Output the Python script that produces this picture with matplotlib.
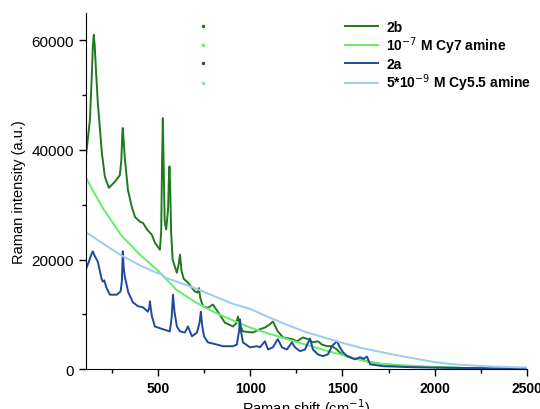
import matplotlib
matplotlib.use('Agg')
import matplotlib.pyplot as plt
from matplotlib.lines import Line2D
from matplotlib.ticker import MultipleLocator

plt.rcParams['font.family'] = ['Liberation Sans', 'DejaVu Sans']

# 2b (dark green)
shift_2b = [110, 132, 142, 148, 153, 158, 164, 175, 197, 213, 235, 267, 294, 302, 307,
            310, 314, 321, 338, 359, 376, 403, 419, 441, 468, 484, 511, 518, 523, 527,
            531, 537, 545, 555, 560, 563, 567, 572, 580, 603, 612, 620, 628, 640, 663,
            700, 715, 722, 730, 744, 771, 798, 825, 863, 907, 925, 934, 943, 961, 1015,
            1053, 1080, 1107, 1123, 1150, 1178, 1226, 1254, 1286, 1313, 1340, 1367, 1389,
            1416, 1443, 1470, 1497, 1525, 1557, 1595, 1650, 1700, 1828, 2010, 2190, 2350,
            2500]
int_2b = [38700, 45500, 53500, 59000, 61000, 59000, 55000, 48500, 39400, 35100, 33100,
          34200, 35400, 38000, 42500, 44000, 42000, 38500, 32700, 29600, 27800, 26900,
          26700, 25500, 24500, 23100, 21800, 25000, 38000, 45800, 38000, 27000, 25500,
          29000, 35000, 37000, 33000, 25000, 20000, 17600, 19000, 20900, 18000, 16500,
          15800, 14200, 14000, 14800, 13000, 11500, 11200, 11800, 10500, 8500, 7800,
          8400, 9600, 8200, 6900, 6700, 7300, 7600, 8200, 8700, 6900, 5800, 5500, 5100,
          5800, 5500, 4900, 5100, 4500, 4200, 4200, 3600, 2700, 2400, 2000, 1800, 1300,
          1000, 550, 360, 200, 120, 80]

# 10^-7 M Cy7 amine (light green)
shift_cy7 = [110, 150, 200, 250, 300, 400, 500, 600, 700, 800, 900, 1000, 1100, 1200,
             1300, 1400, 1500, 1600, 1650, 1700, 1800, 2000, 2200, 2500]
int_cy7 = [35000, 32500, 29500, 27000, 24500, 21000, 18000, 14500, 12300, 10500, 9000,
           7600, 6500, 5500, 4500, 3500, 2600, 1700, 1300, 1000, 800, 400, 200, 50]

# 2a (dark blue)
shift_2a = [110, 125, 140, 148, 156, 175, 195, 202, 210, 220, 240, 278, 298, 305, 310,
            315, 321, 340, 365, 392, 419, 446, 453, 457, 462, 468, 484, 527, 565, 575,
            582, 590, 603, 620, 647, 663, 685, 712, 726, 733, 740, 750, 771, 820, 853,
            907, 928, 940, 945, 950, 961, 999, 1037, 1053, 1080, 1097, 1123, 1150, 1172,
            1199, 1226, 1243, 1270, 1297, 1324, 1340, 1367, 1394, 1421, 1443, 1470,
            1486, 1503, 1525, 1541, 1568, 1595, 1614, 1633, 1650, 1720, 1900, 2100,
            2300, 2500]
int_2a = [18200, 19500, 21000, 21500, 20800, 19600, 16500, 16000, 16200, 15000, 13600,
          13600, 14200, 16000, 21500, 18500, 16900, 14000, 12200, 11500, 11300, 10500,
          11200, 12400, 11000, 9600, 7800, 7300, 6900, 9500, 13600, 10500, 7800, 6900,
          6700, 7800, 6000, 6700, 8500, 10500, 8000, 6000, 4900, 4500, 4200, 4200, 4500,
          7000, 9100, 7000, 4900, 4000, 4200, 4000, 5100, 3600, 4000, 5500, 4000, 3600,
          4900, 4000, 3300, 3600, 5600, 3600, 2700, 2400, 2700, 4200, 5100, 4000, 3100,
          2400, 2200, 1800, 2200, 1900, 2300, 900, 550, 350, 250, 180, 120]

# 5*10^-9 M Cy5.5 amine (light blue)
shift_cy55 = [110, 200, 300, 400, 500, 520, 540, 600, 700, 800, 900, 1000, 1100, 1200,
              1300, 1400, 1500, 1600, 1700, 1800, 1900, 2000, 2100, 2200, 2300, 2400, 2500]
int_cy55 = [25000, 23000, 20800, 19000, 17500, 17400, 16700, 16000, 14800, 13400, 12000,
            11000, 9500, 8100, 6800, 5800, 4800, 3900, 3200, 2500, 1900, 1300, 900, 700,
            500, 400, 300]

labels = ['2b', '10$^{-7}$ M Cy7 amine', '2a', '5*10$^{-9}$ M Cy5.5 amine']
colors = ['#1E7A1E', '#66EE66', '#1F4A9A', '#9CCAF5']

fig = plt.figure(figsize=(5.4, 4.1), dpi=100)
ax = fig.add_axes([0.159, 0.097, 0.817, 0.869])

ax.plot(shift_2b, int_2b, color=colors[0], lw=1.4, label=labels[0])
ax.plot(shift_cy7, int_cy7, color=colors[1], lw=1.4, label=labels[1])
ax.plot(shift_2a, int_2a, color=colors[2], lw=1.4, label=labels[2])
ax.plot(shift_cy55, int_cy55, color=colors[3], lw=1.4, label=labels[3])

ax.set_xlim(110, 2500)
ax.set_ylim(0, 65000)
ax.xaxis.set_major_locator(MultipleLocator(500))
ax.xaxis.set_minor_locator(MultipleLocator(250))
ax.yaxis.set_major_locator(MultipleLocator(20000))
ax.yaxis.set_minor_locator(MultipleLocator(10000))
ax.tick_params(which='major', length=5, width=1, labelsize=11, direction='out')
ax.tick_params(which='minor', length=3, width=1, direction='out')
for lab in ax.get_xticklabels():
    lab.set_fontweight('bold')
    lab.set_fontsize(10)

ax.spines['top'].set_visible(False)
ax.spines['right'].set_visible(False)

ax.set_xlabel('Raman shift (cm$^{-1}$)', fontsize=10.5, labelpad=1)
ax.set_ylabel('Raman intensity (a.u.)', fontsize=10.5, labelpad=4)

leg_kw = dict(loc='upper left', frameon=False, prop={'weight': 'bold', 'size': 10},
              labelspacing=0.06, borderpad=0, borderaxespad=0)
leg = ax.legend(bbox_to_anchor=(0.587, 0.981), handlelength=2.4,
                handletextpad=0.6, **leg_kw)
ax.add_artist(leg)

# stray marker column left of the legend, as in the original figure
dots = [Line2D([], [], ls='none', marker='o', ms=1.5, color=c) for c in colors]
leg2 = ax.legend(dots, labels, bbox_to_anchor=(0.249, 0.981), handlelength=1,
                 **leg_kw)
for t in leg2.get_texts():
    t.set_color('none')

fig.savefig('out.png', dpi=100)
